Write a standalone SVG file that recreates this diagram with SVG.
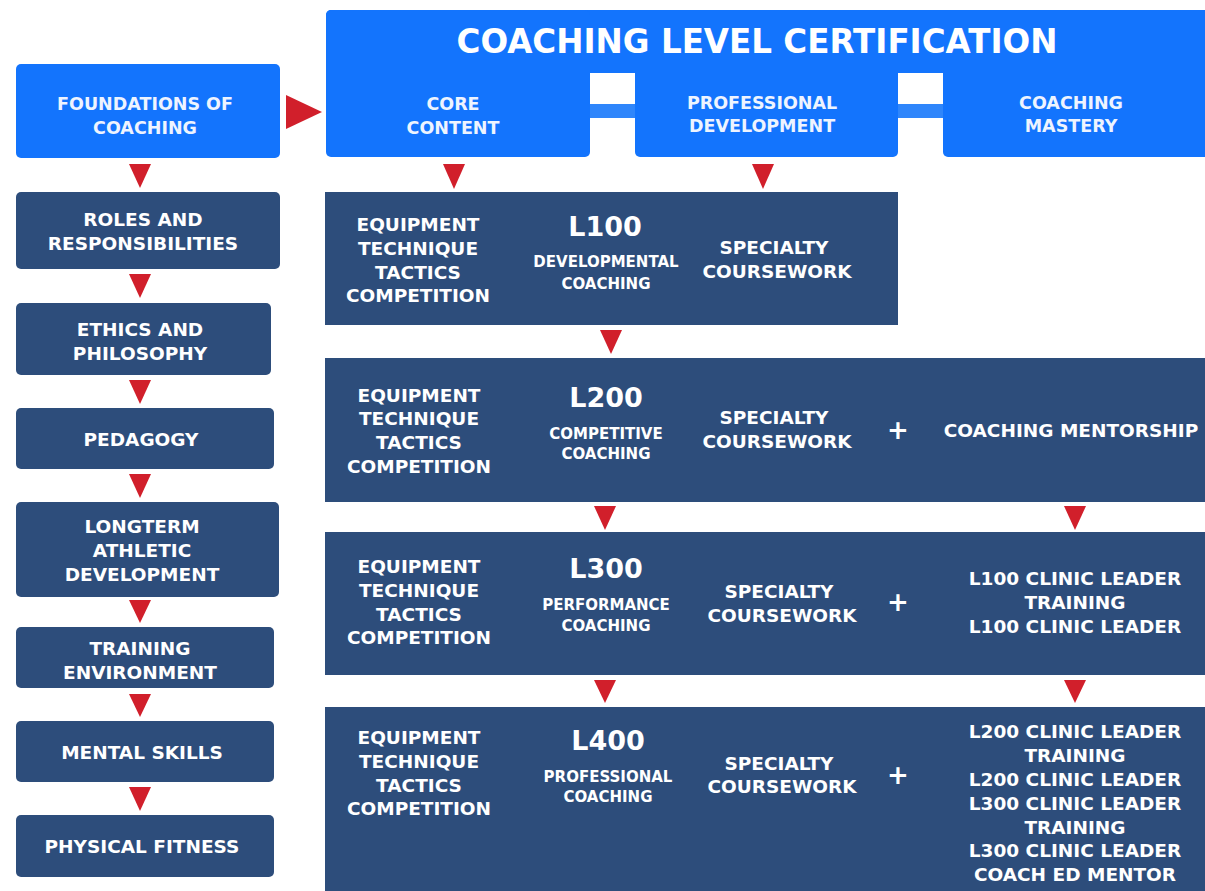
<svg xmlns="http://www.w3.org/2000/svg" width="1205" height="891" viewBox="0 0 1205 891">
<style>
.bb{fill:#1374fd}
.nv{fill:#2d4d7b}
.ar{fill:#d11f2b}
text{font-family:"DejaVu Sans","Liberation Sans",sans-serif;font-weight:bold;fill:#ffffff;text-anchor:middle}
.t{font-size:18.5px}
.h{font-size:17.5px;fill:#eef4ff}
.s{font-size:15px}
.lv{font-size:27px}
.pl{font-size:26px}
.ti{font-size:33px}
</style>
<rect width="1205" height="891" fill="#ffffff"/>

<g id="header">
<rect class="bb" x="326" y="10" width="884" height="64" rx="5"/>
<rect class="bb" x="326" y="10" width="264" height="147" rx="5"/>
<rect class="bb" x="635" y="30" width="263" height="127" rx="5"/>
<rect class="bb" x="943" y="30" width="267" height="127" rx="5"/>
<rect x="590" y="73" width="45" height="84" fill="#ffffff"/>
<rect x="898" y="73" width="45" height="84" fill="#ffffff"/>
<rect x="590" y="104" width="45" height="14" fill="#2f86fb"/>
<rect x="898" y="104" width="45" height="14" fill="#2f86fb"/>
<text class="ti" x="757" y="53" textLength="601" lengthAdjust="spacingAndGlyphs">COACHING LEVEL CERTIFICATION</text>
</g>
<g id="core-content">
<text class="h" x="453" y="110">CORE</text>
<text class="h" x="453" y="134">CONTENT</text>
</g>
<g id="professional-development">
<text class="h" x="762" y="109">PROFESSIONAL</text>
<text class="h" x="762" y="132">DEVELOPMENT</text>
</g>
<g id="coaching-mastery">
<text class="h" x="1071" y="109">COACHING</text>
<text class="h" x="1071" y="132">MASTERY</text>
</g>

<g id="foundations">
<rect class="bb" x="16" y="64" width="264" height="94" rx="5"/>
<text class="h" x="145" y="110">FOUNDATIONS OF</text>
<text class="h" x="145" y="134">COACHING</text>
</g>
<g id="roles">
<rect class="nv" x="16" y="192" width="264" height="77" rx="5"/>
<text class="t" x="143" y="226">ROLES AND</text>
<text class="t" x="143" y="250">RESPONSIBILITIES</text>
</g>
<g id="ethics">
<rect class="nv" x="16" y="303" width="255" height="72" rx="5"/>
<text class="t" x="140" y="336">ETHICS AND</text>
<text class="t" x="140" y="360">PHILOSOPHY</text>
</g>
<g id="pedagogy">
<rect class="nv" x="16" y="408" width="258" height="61" rx="5"/>
<text class="t" x="141" y="446">PEDAGOGY</text>
</g>
<g id="ltad">
<rect class="nv" x="16" y="502" width="263" height="95" rx="5"/>
<text class="t" x="142" y="533">LONGTERM</text>
<text class="t" x="142" y="557">ATHLETIC</text>
<text class="t" x="142" y="581">DEVELOPMENT</text>
</g>
<g id="training-environment">
<rect class="nv" x="16" y="627" width="258" height="61" rx="5"/>
<text class="t" x="140" y="655">TRAINING</text>
<text class="t" x="140" y="679">ENVIRONMENT</text>
</g>
<g id="mental-skills">
<rect class="nv" x="16" y="721" width="258" height="61" rx="5"/>
<text class="t" x="142" y="759">MENTAL SKILLS</text>
</g>
<g id="physical-fitness">
<rect class="nv" x="16" y="815" width="258" height="62" rx="5"/>
<text class="t" x="142" y="853">PHYSICAL FITNESS</text>
</g>

<g id="l100">
<rect class="nv" x="325" y="192" width="573" height="133"/>
<text class="t" x="418" y="231">EQUIPMENT</text>
<text class="t" x="418" y="255">TECHNIQUE</text>
<text class="t" x="418" y="279">TACTICS</text>
<text class="t" x="418" y="302">COMPETITION</text>
<text class="lv" x="605" y="236">L100</text>
<text class="s" x="606" y="267">DEVELOPMENTAL</text>
<text class="s" x="606" y="289">COACHING</text>
<text class="t" x="774" y="254">SPECIALTY</text>
<text class="t" x="777" y="278">COURSEWORK</text>
</g>
<g id="l200">
<rect class="nv" x="325" y="358" width="885" height="144"/>
<text class="t" x="419" y="402">EQUIPMENT</text>
<text class="t" x="419" y="425">TECHNIQUE</text>
<text class="t" x="419" y="449">TACTICS</text>
<text class="t" x="419" y="473">COMPETITION</text>
<text class="lv" x="606" y="407">L200</text>
<text class="s" x="606" y="439">COMPETITIVE</text>
<text class="s" x="606" y="459">COACHING</text>
<text class="t" x="774" y="424">SPECIALTY</text>
<text class="t" x="777" y="448">COURSEWORK</text>
<text class="pl" x="898" y="439">+</text>
<text class="t" x="1071" y="437">COACHING MENTORSHIP</text>
</g>
<g id="l300">
<rect class="nv" x="325" y="532" width="885" height="143"/>
<text class="t" x="419" y="573">EQUIPMENT</text>
<text class="t" x="419" y="597">TECHNIQUE</text>
<text class="t" x="419" y="621">TACTICS</text>
<text class="t" x="419" y="644">COMPETITION</text>
<text class="lv" x="606" y="578">L300</text>
<text class="s" x="606" y="610">PERFORMANCE</text>
<text class="s" x="606" y="631">COACHING</text>
<text class="t" x="779" y="598">SPECIALTY</text>
<text class="t" x="782" y="622">COURSEWORK</text>
<text class="pl" x="898" y="611">+</text>
<text class="t" x="1075" y="585">L100 CLINIC LEADER</text>
<text class="t" x="1075" y="609">TRAINING</text>
<text class="t" x="1075" y="633">L100 CLINIC LEADER</text>
</g>
<g id="l400">
<rect class="nv" x="325" y="707" width="885" height="190"/>
<text class="t" x="419" y="744">EQUIPMENT</text>
<text class="t" x="419" y="768">TECHNIQUE</text>
<text class="t" x="419" y="792">TACTICS</text>
<text class="t" x="419" y="815">COMPETITION</text>
<text class="lv" x="608" y="750">L400</text>
<text class="s" x="608" y="782">PROFESSIONAL</text>
<text class="s" x="608" y="802">COACHING</text>
<text class="t" x="779" y="770">SPECIALTY</text>
<text class="t" x="782" y="793">COURSEWORK</text>
<text class="pl" x="898" y="784">+</text>
<text class="t" x="1075" y="738">L200 CLINIC LEADER</text>
<text class="t" x="1075" y="762">TRAINING</text>
<text class="t" x="1075" y="786">L200 CLINIC LEADER</text>
<text class="t" x="1075" y="810">L300 CLINIC LEADER</text>
<text class="t" x="1075" y="834">TRAINING</text>
<text class="t" x="1075" y="857">L300 CLINIC LEADER</text>
<text class="t" x="1075" y="881">COACH ED MENTOR</text>
</g>

<g id="connectors">
<polygon class="ar" points="286,95 322,112 286,129"/>
<polygon class="ar" points="129,164 151,164 140,188"/>
<polygon class="ar" points="129,274 151,274 140,298"/>
<polygon class="ar" points="129,380 151,380 140,404"/>
<polygon class="ar" points="129,474 151,474 140,498"/>
<polygon class="ar" points="129,600 151,600 140,623"/>
<polygon class="ar" points="129,694 151,694 140,717"/>
<polygon class="ar" points="129,787 151,787 140,811"/>
<polygon class="ar" points="443,164 465,164 454,189"/>
<polygon class="ar" points="752,164 774,164 763,189"/>
<polygon class="ar" points="600,330 622,330 611,354"/>
<polygon class="ar" points="594,506 616,506 605,530"/>
<polygon class="ar" points="1064,506 1086,506 1075,530"/>
<polygon class="ar" points="594,680 616,680 605,703"/>
<polygon class="ar" points="1064,680 1086,680 1075,703"/>
</g>
</svg>
